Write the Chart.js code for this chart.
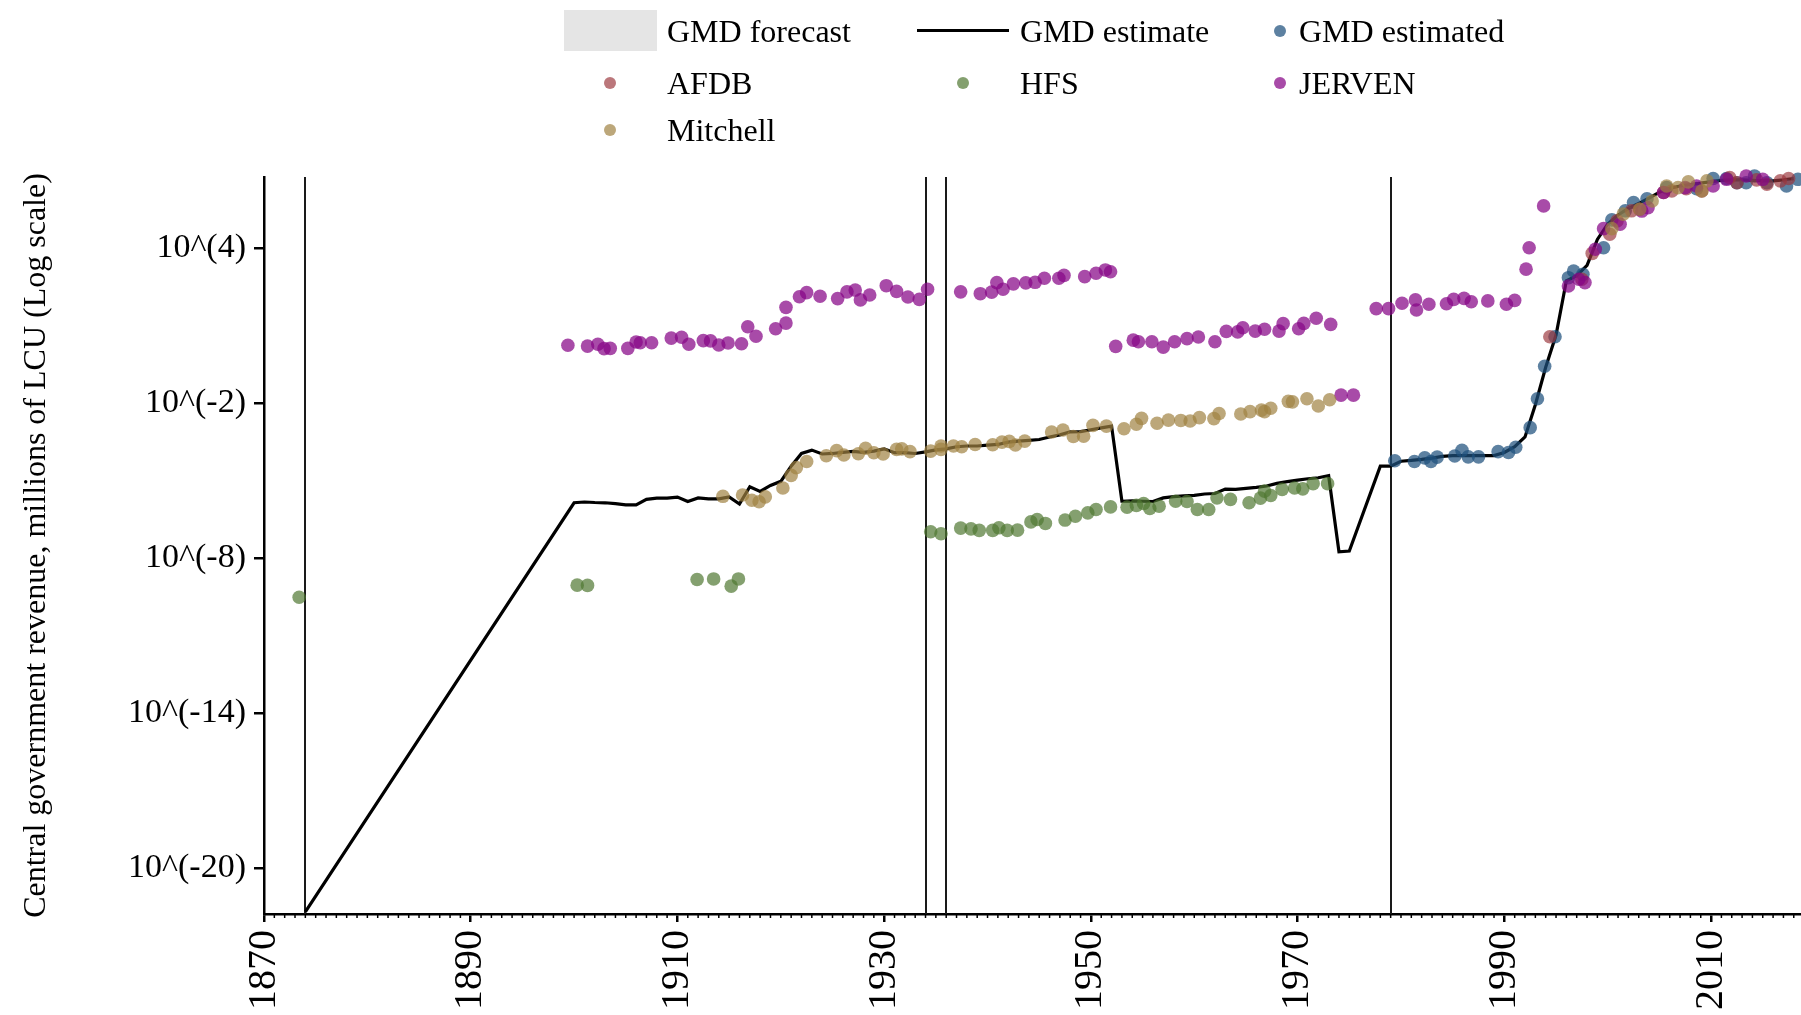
<!DOCTYPE html>
<html>
<head>
<meta charset="utf-8">
<script src="https://cdn.jsdelivr.net/npm/chart.js@4/dist/chart.umd.min.js"></script>
<style>
  html, body { margin: 0; padding: 0; background: #fff; }
  #wrap { position: relative; width: 1801px; height: 1015px; overflow: hidden;
          font-family: "Liberation Serif", "Times New Roman", serif; }
  #chart { position: absolute; left: 0; top: 0; }
  .lg-text { position: absolute; font-size: 32px; line-height: 32px; white-space: nowrap; color: #000; }
  .lg-mark { position: absolute; }
</style>
</head>
<body>
<div id="wrap">
  <canvas id="chart" width="1801" height="1015"></canvas>
</div>
<script>
// --- data (years, log10 of revenue in millions of LCU) ---
const yTitle = "Central government revenue, millions of LCU (Log scale)";
const xTickYears = [1870, 1890, 1910, 1930, 1950, 1970, 1990, 2010];
const yTickExps = [-20, -14, -8, -2, 4];
const breakYears = [1874, 1934, 1936, 1979];

const gmdEstimate = [
  [1874,-21.7],[1900,-5.85],[1901,-5.82],[1902,-5.84],[1903,-5.85],[1904,-5.88],[1905,-5.93],[1906,-5.93],
  [1907,-5.72],[1908,-5.67],[1909,-5.67],[1910,-5.63],[1911,-5.80],[1912,-5.66],[1913,-5.70],[1914,-5.70],
  [1915,-5.62],[1916,-5.90],[1917,-5.23],[1918,-5.41],[1919,-5.18],[1920,-5.02],[1921,-4.43],[1922,-3.94],
  [1923,-3.81],[1924,-3.96],[1925,-3.94],[1926,-3.90],[1927,-3.86],[1928,-3.90],[1929,-3.85],[1930,-3.76],
  [1931,-3.91],[1932,-3.91],[1933,-3.94],[1934,-3.88],[1935,-3.80],[1936,-3.76],[1937,-3.68],[1938,-3.65],
  [1939,-3.65],[1940,-3.62],[1941,-3.59],[1942,-3.50],[1943,-3.46],[1944,-3.43],[1945,-3.40],[1946,-3.30],
  [1947,-3.22],[1948,-3.10],[1949,-3.09],[1950,-3.02],[1951,-2.95],[1952,-2.88],[1953,-5.79],[1954,-5.78],
  [1955,-5.79],[1956,-5.80],[1957,-5.66],[1958,-5.61],[1959,-5.58],[1960,-5.56],[1961,-5.51],[1962,-5.49],
  [1963,-5.32],[1964,-5.33],[1965,-5.29],[1966,-5.25],[1967,-5.20],[1968,-5.10],[1969,-5.03],[1970,-4.97],
  [1971,-4.92],[1972,-4.88],[1973,-4.80],[1974,-7.75],[1975,-7.72],[1978,-4.43],[1979,-4.43],[1980,-4.24],
  [1981,-4.21],[1982,-4.17],[1983,-4.12],[1984,-4.05],[1985,-4.02],[1986,-4.02],[1987,-4.02],[1988,-4.02],
  [1989,-4.02],[1990,-3.90],[1991,-3.68],[1992,-3.30],[1993,-2.05],[1994,-0.60],[1995,0.65],[1996,2.75],
  [1997,2.95],[1998,3.35],[1999,4.35],[2000,4.95],[2001,5.30],[2002,5.55],[2003,5.75],[2004,5.95],
  [2005,6.18],[2006,6.33],[2007,6.42],[2008,6.48],[2009,6.53],[2010,6.59],[2011,6.64],[2012,6.66],
  [2013,6.66],[2014,6.64],[2015,6.62],[2016,6.62],[2017,6.66],[2018,6.71]
];

const gmdEstimated = [
  [1979.4,-4.22],[1981.3,-4.25],[1982.3,-4.11],[1982.9,-4.25],[1983.5,-4.08],[1985.2,-4.04],[1985.9,-3.82],
  [1986.5,-4.07],[1987.5,-4.07],[1989.4,-3.87],[1990.4,-3.90],[1991.1,-3.70],[1992.5,-2.94],[1993.2,-1.82],
  [1993.9,-0.56],[1994.9,0.58],[1996.2,2.87],[1996.7,3.13],[1997.6,3.00],[1999.6,4.03],[2000.4,5.11],
  [2001.7,5.46],[2002.5,5.78],[2003.8,5.93],[2005.7,6.36],[2008.6,6.32],[2010.2,6.71],[2011.5,6.71],
  [2012.5,6.55],[2013.4,6.55],[2014.2,6.81],[2015.4,6.55],[2017.3,6.42],[2018.4,6.68]
];

const afdb = [
  [1994.4,0.58],[1997.5,2.81],[1998.5,3.81],[2000.2,4.55],[2000.9,5.07],[2002.3,5.46],[2003.1,5.52],
  [2005.4,6.17],[2006.2,6.23],[2007.6,6.32],[2009.1,6.23],[2011.8,6.75],[2012.5,6.55],[2014.4,6.66],
  [2015.4,6.49],[2016.7,6.62],[2017.5,6.71]
];

const hfs = [
  [1873.4,-9.51],[1900.3,-9.04],[1901.3,-9.05],[1911.9,-8.82],[1913.5,-8.80],[1915.2,-9.08],[1915.9,-8.80],
  [1934.5,-6.97],[1935.5,-7.05],[1937.4,-6.83],[1938.4,-6.86],[1939.2,-6.92],[1940.5,-6.92],[1941.1,-6.82],
  [1941.9,-6.92],[1942.9,-6.91],[1944.2,-6.59],[1944.8,-6.50],[1945.6,-6.65],[1947.5,-6.52],[1948.5,-6.37],
  [1949.7,-6.24],[1950.5,-6.11],[1951.9,-6.01],[1953.5,-6.02],[1954.4,-5.95],[1955.1,-5.88],[1955.7,-6.07],
  [1956.6,-5.98],[1958.2,-5.79],[1959.3,-5.80],[1960.3,-6.11],[1961.4,-6.11],[1962.2,-5.66],[1963.5,-5.72],
  [1965.3,-5.85],[1966.4,-5.67],[1966.8,-5.40],[1967.4,-5.57],[1968.5,-5.33],[1969.7,-5.28],[1970.5,-5.31],
  [1971.5,-5.11],[1972.9,-5.11]
];

const jerven = [
  [1899.4,0.25],[1901.3,0.22],[1902.3,0.29],[1902.9,0.12],[1903.5,0.13],[1905.2,0.13],[1906.0,0.38],
  [1906.4,0.35],[1907.5,0.35],[1909.4,0.53],[1910.4,0.56],[1911.1,0.29],[1912.5,0.43],[1913.2,0.42],
  [1914.0,0.26],[1914.9,0.34],[1916.2,0.31],[1916.8,0.97],[1917.6,0.60],[1919.5,0.89],[1920.5,1.11],
  [1920.5,1.72],[1921.8,2.13],[1922.5,2.29],[1923.8,2.15],[1925.5,2.06],[1926.4,2.32],[1927.2,2.39],
  [1927.7,2.01],[1928.6,2.20],[1930.2,2.56],[1931.2,2.34],[1932.3,2.12],[1933.4,2.03],[1934.2,2.42],
  [1937.4,2.32],[1939.3,2.25],[1940.4,2.31],[1940.9,2.68],[1941.5,2.42],[1942.5,2.63],[1943.7,2.67],
  [1944.6,2.69],[1945.5,2.85],[1946.9,2.85],[1947.4,2.96],[1949.4,2.91],[1950.5,3.04],[1951.4,3.17],
  [1951.9,3.10],[1952.4,0.21],[1954.1,0.45],[1954.6,0.39],[1955.9,0.39],[1957.0,0.18],[1958.1,0.39],
  [1959.3,0.51],[1960.4,0.57],[1962.0,0.39],[1963.1,0.79],[1964.2,0.77],[1964.7,0.93],[1965.9,0.80],
  [1966.8,0.87],[1968.2,0.80],[1968.6,1.09],[1970.1,0.89],[1970.6,1.10],[1971.8,1.30],[1973.2,1.06],
  [1974.2,-1.68],[1975.4,-1.68],[1977.6,1.67],[1978.8,1.67],[1980.1,1.88],[1981.4,2.01],[1981.5,1.62],
  [1982.7,1.84],[1984.4,1.86],[1985.1,2.03],[1986.1,2.07],[1986.8,1.94],[1988.4,1.97],[1990.2,1.84],
  [1991.0,1.99],[1992.1,3.20],[1992.4,4.03],[1993.8,5.65],[1996.2,2.55],[1997.2,2.81],[1997.8,2.68],
  [1998.8,3.97],[1999.6,4.77],[2001.2,4.94],[2003.3,5.45],[2003.9,5.58],[2005.4,6.17],[2007.5,6.36],
  [2008.6,6.42],[2010.2,6.42],[2011.5,6.68],[2013.4,6.81],[2015.0,6.68]
];

const mitchell = [
  [1914.4,-5.60],[1916.3,-5.55],[1917.2,-5.75],[1917.9,-5.81],[1918.5,-5.62],[1920.2,-5.28],[1921.0,-4.79],
  [1921.5,-4.49],[1922.5,-4.25],[1924.4,-4.03],[1925.4,-3.83],[1926.1,-4.00],[1927.5,-3.95],[1928.2,-3.74],
  [1929.0,-3.91],[1929.9,-3.96],[1931.2,-3.78],[1931.7,-3.76],[1932.5,-3.87],[1934.5,-3.85],[1935.5,-3.65],
  [1935.5,-3.78],[1936.7,-3.65],[1937.5,-3.68],[1938.8,-3.59],[1940.5,-3.60],[1941.4,-3.50],[1942.1,-3.47],
  [1942.7,-3.61],[1943.6,-3.46],[1946.2,-3.11],[1947.3,-3.03],[1948.3,-3.28],[1949.3,-3.27],[1950.2,-2.85],
  [1951.5,-2.88],[1953.2,-2.98],[1954.4,-2.81],[1954.9,-2.58],[1956.4,-2.77],[1957.5,-2.65],[1958.7,-2.66],
  [1959.6,-2.68],[1960.5,-2.55],[1961.9,-2.59],[1962.4,-2.39],[1964.5,-2.41],[1965.4,-2.32],[1966.5,-2.26],
  [1966.8,-2.32],[1967.4,-2.19],[1969.1,-1.92],[1969.5,-1.94],[1970.9,-1.82],[1972.0,-2.10],[1973.1,-1.86],
  [2000.4,4.77],[2001.5,5.33],[2003.1,5.52],[2004.3,5.84],[2005.7,6.42],[2006.8,6.36],[2007.8,6.58],
  [2009.1,6.23],[2009.6,6.62]
];

// --- styling ---
const FONT = '"Liberation Serif", "Times New Roman", serif';
const COLORS = {
  forecast: '#e5e5e5',
  estimate: '#000000',
  estimated: 'rgba(30, 80, 125, 0.72)',
  afdb: 'rgba(155, 55, 60, 0.68)',
  hfs: 'rgba(80, 120, 50, 0.7)',
  jerven: 'rgba(135, 5, 135, 0.72)',
  mitchell: 'rgba(160, 130, 65, 0.7)'
};
const toXY = arr => arr.map(([x, y]) => ({ x, y }));

function dots(label, data, color, order) {
  return {
    type: 'scatter', label, data: toXY(data), order, clip: false,
    backgroundColor: color, borderWidth: 0, pointRadius: 6.8, pointHoverRadius: 6.8
  };
}

// vertical break lines + yearly minor ticks
const extras = {
  id: 'extras',
  beforeDatasetsDraw(chart) {
    const { ctx, chartArea, scales: { x } } = chart;
    ctx.save();
    ctx.strokeStyle = '#1a1a1a';
    ctx.lineWidth = 2;
    breakYears.forEach(yr => {
      const px = Math.round(x.getPixelForValue(yr));
      ctx.beginPath();
      ctx.moveTo(px, chartArea.top);
      ctx.lineTo(px, chartArea.bottom);
      ctx.stroke();
    });
    ctx.restore();
  },
  afterDraw(chart) {
    const { ctx, scales: { x } } = chart;
    ctx.save();
    ctx.strokeStyle = '#000';
    ctx.lineWidth = 1.5;
    for (let yr = Math.ceil(x.min); yr <= x.max; yr++) {
      if (xTickYears.includes(yr)) continue;
      const px = x.getPixelForValue(yr);
      ctx.beginPath();
      ctx.moveTo(px, x.top);
      ctx.lineTo(px, x.top + 4);
      ctx.stroke();
    }
    ctx.restore();
  }
};

new Chart(document.getElementById('chart'), {
  data: {
    datasets: [
      { type: 'line', label: 'GMD estimate', data: toXY(gmdEstimate), order: 10,
        borderColor: COLORS.estimate, borderWidth: 3.2, pointRadius: 0, tension: 0, fill: false },
      dots('GMD estimated', gmdEstimated, COLORS.estimated, 6),
      dots('AFDB', afdb, COLORS.afdb, 5),
      dots('HFS', hfs, COLORS.hfs, 4),
      dots('JERVEN', jerven, COLORS.jerven, 3),
      dots('Mitchell', mitchell, COLORS.mitchell, 2)
    ]
  },
  options: {
    responsive: false,
    animation: false,
    layout: { autoPadding: false, padding: { left: 17, top: 177, right: 0, bottom: 0 } },
    plugins: { legend: { display: false }, tooltip: { enabled: false } },
    scales: {
      x: {
        type: 'linear', min: 1870, max: 2018.7,
        afterBuildTicks: s => { s.ticks = xTickYears.map(v => ({ value: v })); },
        afterFit: s => { s.height = 101; s.paddingLeft = 0; s.paddingRight = 0; },
        grid: { drawOnChartArea: false, drawTicks: true, tickLength: 8, color: '#000', lineWidth: 2.5 },
        border: { display: true, color: '#000', width: 2.5 },
        ticks: { autoSkip: false, minRotation: 90, maxRotation: 90, padding: 8, color: '#000',
                 font: { family: FONT, size: 40 }, callback: v => String(v) }
      },
      y: {
        type: 'linear', min: -21.78, max: 6.77,
        afterBuildTicks: s => { s.ticks = yTickExps.map(v => ({ value: v })); },
        afterFit: s => { s.width = 247; s.paddingTop = 0; s.paddingBottom = 0; },
        grid: { drawOnChartArea: false, drawTicks: true, tickLength: 10, color: '#000', lineWidth: 2.5 },
        border: { display: true, color: '#000', width: 2.5 },
        ticks: { padding: 8, color: '#000', font: { family: FONT, size: 34 },
                 callback: v => '10^(' + v + ')' },
        title: { display: true, text: yTitle, color: '#000', padding: { top: 0, bottom: 0 },
                 font: { family: FONT, size: 32 } }
      }
    }
  },
  plugins: [extras]
});

// --- legend (3-column grid above the plot) ---
const legendCols = { markX: [610, 963, 1280], textX: [667, 1020, 1299] };
const legendRows = [31, 83, 130];
const legendItems = [
  { label: 'GMD forecast', kind: 'box', color: COLORS.forecast, col: 0, row: 0 },
  { label: 'GMD estimate', kind: 'line', color: COLORS.estimate, col: 1, row: 0 },
  { label: 'GMD estimated', kind: 'dot', color: COLORS.estimated, col: 2, row: 0 },
  { label: 'AFDB', kind: 'dot', color: COLORS.afdb, col: 0, row: 1 },
  { label: 'HFS', kind: 'dot', color: COLORS.hfs, col: 1, row: 1 },
  { label: 'JERVEN', kind: 'dot', color: COLORS.jerven, col: 2, row: 1 },
  { label: 'Mitchell', kind: 'dot', color: COLORS.mitchell, col: 0, row: 2 }
];
const wrap = document.getElementById('wrap');
legendItems.forEach(it => {
  const cx = legendCols.markX[it.col], cy = legendRows[it.row];
  const m = document.createElement('div');
  m.className = 'lg-mark';
  if (it.kind === 'box') {
    Object.assign(m.style, { left: (cx - 46) + 'px', top: (cy - 21) + 'px', width: '93px', height: '41px', background: it.color });
  } else if (it.kind === 'line') {
    Object.assign(m.style, { left: (cx - 46) + 'px', top: (cy - 2) + 'px', width: '92px', height: '3px', background: it.color });
  } else {
    Object.assign(m.style, { left: (cx - 6) + 'px', top: (cy - 6) + 'px', width: '12px', height: '12px', borderRadius: '50%', background: it.color });
  }
  wrap.appendChild(m);
  const t = document.createElement('div');
  t.className = 'lg-text';
  t.textContent = it.label;
  t.style.left = legendCols.textX[it.col] + 'px';
  t.style.top = (cy - 16) + 'px';
  wrap.appendChild(t);
});
</script>
</body>
</html>
